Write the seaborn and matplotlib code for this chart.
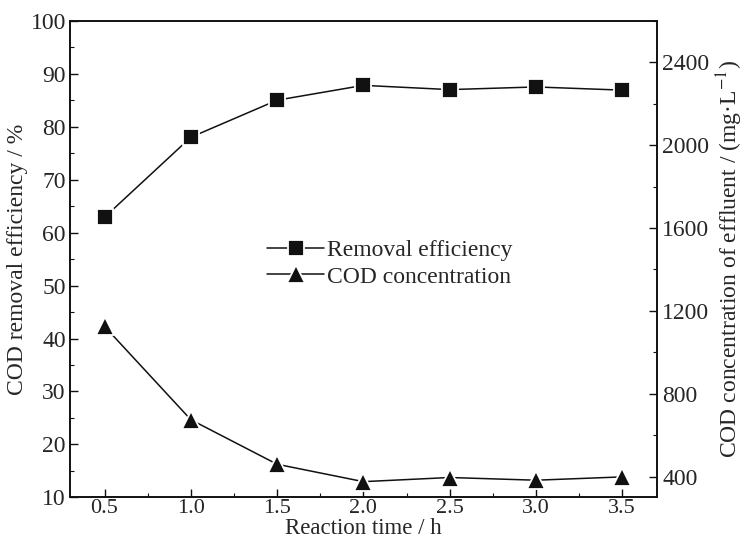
import pandas as pd
import matplotlib.pyplot as plt
import seaborn as sns
from matplotlib.ticker import MultipleLocator

# Data
reaction_time = [0.5, 1.0, 1.5, 2.0, 2.5, 3.0, 3.5]
removal_eff = [62.9, 78.0, 85.0, 87.8, 87.0, 87.5, 86.9]
cod_conc = [1125, 675, 460, 376, 396, 383, 399]

df = pd.DataFrame({'time': reaction_time, 'removal': removal_eff, 'cod': cod_conc})

sns.set_theme(style='ticks')
plt.rcParams['font.family'] = ['Liberation Serif', 'DejaVu Serif']
plt.rcParams['mathtext.fontset'] = 'stix'
plt.rcParams['xtick.direction'] = 'in'
plt.rcParams['ytick.direction'] = 'in'

fig = plt.figure(figsize=(7.45, 5.46), dpi=100)
ax = fig.add_axes([0.094, 0.089, 0.7875, 0.873])
ax2 = ax.twinx()

sns.lineplot(data=df, x='time', y='removal', ax=ax, color='#111111', lw=1.1,
             marker='s', markersize=11, markeredgecolor='white', markeredgewidth=1.3,
             label='Removal efficiency', legend=False)
sns.lineplot(data=df, x='time', y='cod', ax=ax2, color='#111111', lw=1.1,
             marker='^', markersize=13, markeredgecolor='white', markeredgewidth=1.3,
             label='COD concentration', legend=False)

ax.set_xlim(0.3, 3.7)
ax.set_ylim(10, 100)
ax2.set_ylim(300, 2600)

ax.xaxis.set_major_locator(MultipleLocator(0.5))
ax.xaxis.set_minor_locator(MultipleLocator(0.25))
ax.yaxis.set_major_locator(MultipleLocator(10))
ax.yaxis.set_minor_locator(MultipleLocator(5))
ax2.set_yticks([400, 800, 1200, 1600, 2000, 2400])
ax2.yaxis.set_minor_locator(MultipleLocator(200))

for a in (ax, ax2):
    a.tick_params(which='major', length=6, width=1.0, labelsize=17, color='#111111')
    a.tick_params(which='minor', length=3, width=0.8, color='#111111')
    for s in a.spines.values():
        s.set_linewidth(1.2)
        s.set_color('#111111')
ax.tick_params(axis='y', right=False, which='both', pad=3)
ax2.tick_params(axis='y', pad=4)
ax.tick_params(axis='x', top=False, which='both', pad=1, labelsize=16)

ax.set_xlabel('Reaction time / h', fontsize=16.5, labelpad=0)
ax.set_ylabel('COD removal efficiency / %', fontsize=17, labelpad=2)
ax2.set_ylabel('COD concentration of effluent / (mg·L$^{-1}$)', fontsize=17, labelpad=4)

h1, l1 = ax.get_legend_handles_labels()
h2, l2 = ax2.get_legend_handles_labels()
ax.legend(h1 + h2, l1 + l2, loc='center left', bbox_to_anchor=(0.32, 0.49),
          frameon=False, fontsize=17, handlelength=2.4, handletextpad=0.15,
          labelspacing=0.2, borderaxespad=0)

fig.savefig('out.png', dpi=100)
